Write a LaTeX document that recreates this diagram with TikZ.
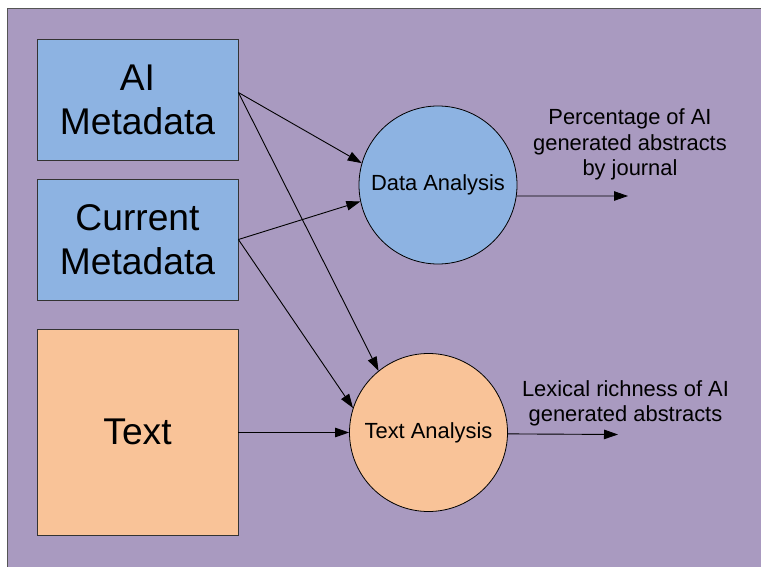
\documentclass[tikz,border=0pt]{standalone}
\usepackage{fontspec}
\setmainfont{Liberation Sans}
\usetikzlibrary{arrows.meta}

\definecolor{bgpurple}{HTML}{A99AC0}
\definecolor{metablue}{HTML}{8DB3E2}
\definecolor{textpeach}{HTML}{F9C398}
\definecolor{framegray}{HTML}{555555}

\begin{document}
\begin{tikzpicture}[x = 1pt, y = -1pt, >= {Triangle[length=14pt, width=9.5pt]},
    bigbox/.style = {draw = black!80, line width = .8pt, minimum width = 201pt, minimum height = 121pt, inner sep = 0pt, align = center, font = \fontsize{37.2}{44}\selectfont},
    analysis/.style = {circle, draw = black, line width = .8pt, minimum size = 158pt, inner sep = 0pt, font = \fontsize{21.9}{25.5}\selectfont},
    result/.style = {inner sep = 0pt, align = center, font = \fontsize{21.9}{25.5}\selectfont},
    flow/.style = {->, line width = .9pt}]
    \useasboundingbox (0, 0) rectangle (761, 567);
    \begin{scope}
    \clip (0, 0) rectangle (761, 567);
    \fill [white] (0, 0) rectangle (761, 567);
    \filldraw [fill = bgpurple, draw = framegray, line width = 1pt] (7.5, 9) rectangle (780, 590);
    \end{scope}

    % inputs
    \node [bigbox, fill = metablue] (aimeta) at (137.5, 99.5) {AI\\Metadata};
    \node [bigbox, fill = metablue] (curmeta) at (137.5, 239.5) {Current\\Metadata};
    \node [bigbox, fill = textpeach, minimum height = 206pt] (textbox) at (137.5, 432) {Text};

    % analyses
    \node [analysis, fill = metablue] (data) at (438, 185) {Data Analysis};
    \node [analysis, fill = textpeach] (textan) at (428.5, 432.5) {Text Analysis};

    % outputs
    \node [result] (percent) at (630, 144.5) {Percentage of AI\\generated abstracts\\by journal};
    \node [result] (lexical) at (625.5, 403.5) {Lexical richness of AI\\generated abstracts};
    \coordinate (percentend) at (628, 196);
    \coordinate (lexicalend) at (618, 434.5);

    \draw [flow] ([yshift = 7pt]aimeta.east) -- (data.164);
    \draw [flow] ([yshift = 7pt]aimeta.east) -- (textan.129);
    \draw [flow] (curmeta.east) -- (data.192);
    \draw [flow] (curmeta.east) -- (textan.162);
    \draw [flow] (textbox.east |- textan.west) -- (textan.west);

    \draw [flow] (data.-8) -- (percentend);
    \draw [flow] (textan.-1.5) -- (lexicalend);
\end{tikzpicture}
\end{document}
